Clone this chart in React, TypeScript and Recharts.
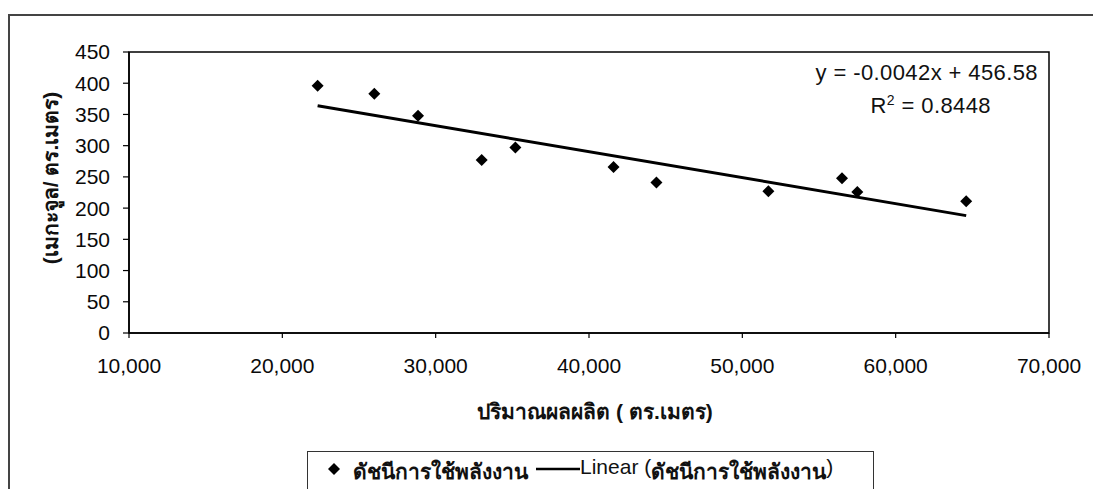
import React from 'react';
import { ScatterChart, Scatter, XAxis, YAxis, ReferenceArea, Customized } from 'recharts';

// output (sq. m) vs energy index (MJ / sq. m)
const outputSqm = [22300, 26000, 28850, 33000, 35200, 41600, 44400, 51700, 56500, 57500, 64600];
const energyIndex = [396, 383, 348, 277, 297, 266, 241, 227, 248, 226, 211];

// trendline ends as drawn in the picture
const trendX = [22300, 64600];
const trendY = [364, 188];

const xTicks = [10000, 20000, 30000, 40000, 50000, 60000, 70000];
const yTicks = [0, 50, 100, 150, 200, 250, 300, 350, 400, 450];

const seriesName = 'ดัชนีการใช้พลังงาน';
const xTitle = 'ปริมาณผลผลิต ( ตร.เมตร)';
const yTitle = '(เมกะจูล/ ตร.เมตร)';

const FONT = "'Liberation Sans', Arial, sans-serif";

const points = outputSqm.map((x, i) => ({ x, y: energyIndex[i] }));
const trend = trendX.map((x, i) => ({ x, y: trendY[i] }));

const Diamond = (props: any) => {
  const { cx, cy } = props;
  const r = 6;
  return <path d={`M${cx},${cy - r}L${cx + r},${cy}L${cx},${cy + r}L${cx - r},${cy}Z`} fill="#000" />;
};

const LegendBox = () => (
  <div
    style={{
      position: 'absolute',
      left: 307,
      top: 451,
      width: 567,
      border: '1.5px solid #333',
      height: 60,
      boxSizing: 'border-box',
      display: 'flex',
      alignItems: 'flex-start',
      paddingTop: 3,
      paddingLeft: 19,
      fontFamily: FONT,
      fontSize: 21,
      fontWeight: 'bold',
      color: '#111',
      whiteSpace: 'nowrap',
    }}
  >
    <svg width={14} height={26} style={{ marginRight: 12 }}>
      <path d="M7,8L13,14L7,20L1,14Z" fill="#000" />
    </svg>
    <span>{seriesName}</span>
    <svg width={44} height={26} style={{ marginLeft: 8 }}>
      <line x1={0} y1={14} x2={44} y2={14} stroke="#000" strokeWidth={2.5} />
    </svg>
    <span style={{ fontWeight: 'normal' }}>Linear (</span>
    <span>{seriesName}</span>
    <span style={{ fontWeight: 'normal' }}>)</span>
  </div>
);

const Equation = () => (
  <g fontFamily={FONT} fontSize={22} fill="#111" letterSpacing={0.4}>
    <text x={1038} y={80} textAnchor="end">y = -0.0042x + 456.58</text>
    <text x={991} y={113} textAnchor="end">
      R<tspan dy={-8} fontSize={14}>2</tspan><tspan dy={8}> = 0.8448</tspan>
    </text>
  </g>
);

const YTitle = () => (
  <text
    x={50}
    y={178}
    transform="rotate(-90, 50, 178)"
    textAnchor="middle"
    dominantBaseline="central"
    fontFamily={FONT}
    fontSize={21}
    fontWeight="bold"
    fill="#111"
  >
    {yTitle}
  </text>
);

const XTitle = () => (
  <text
    x={595}
    y={411}
    textAnchor="middle"
    dominantBaseline="central"
    fontFamily={FONT}
    fontSize={21}
    fontWeight="bold"
    fill="#111"
  >
    {xTitle}
  </text>
);

const App: React.FC = () => {
  return (
    <div style={{ position: 'fixed', left: 0, top: 0, width: 1093, height: 489, overflow: 'hidden', background: '#fff' }}>
      {/* outer chart frame, only top/left visible in the scan */}
      <div
        style={{
          position: 'absolute',
          left: 8,
          top: 14,
          width: 1200,
          height: 600,
          borderTop: '2px solid #444',
          borderLeft: '2px solid #444',
        }}
      />
      <ScatterChart
        width={1093}
        height={489}
        margin={{ top: 52, right: 44, bottom: 126, left: 59 }}
        style={{ fontFamily: FONT, position: 'absolute', left: 0, top: 0 }}
      >
        <XAxis
          type="number"
          dataKey="x"
          domain={[10000, 70000]}
          ticks={xTicks}
          height={30}
          tickSize={5}
          tickMargin={20}
          axisLine={{ stroke: '#000', strokeWidth: 1.5 }}
          tickLine={{ stroke: '#000', strokeWidth: 1.2 }}
          tick={{ fill: '#0a0a0a', fontSize: 21 }}
          tickFormatter={(v: number) => v.toLocaleString('en-US')}
          interval={0}
        />
        <YAxis
          type="number"
          dataKey="y"
          domain={[0, 450]}
          ticks={yTicks}
          width={70}
          tickSize={6}
          tickMargin={13}
          axisLine={{ stroke: '#000', strokeWidth: 1.5 }}
          tickLine={{ stroke: '#000', strokeWidth: 1.2 }}
          tick={{ fill: '#0a0a0a', fontSize: 21 }}
          interval={0}
        />
        <ReferenceArea x1={10000} x2={70000} y1={0} y2={450} fill="none" stroke="#000" strokeWidth={1.5} />
        <Scatter
          name={seriesName}
          data={points}
          shape={<Diamond />}
          isAnimationActive={false}
        />
        <Scatter
          name="Linear"
          data={trend}
          line={{ stroke: '#000', strokeWidth: 3 }}
          shape={() => <g />}
          isAnimationActive={false}
        />
        <Customized component={<Equation />} />
        <Customized component={<YTitle />} />
        <Customized component={<XTitle />} />
      </ScatterChart>
      <LegendBox />
    </div>
  );
};

export default App;
